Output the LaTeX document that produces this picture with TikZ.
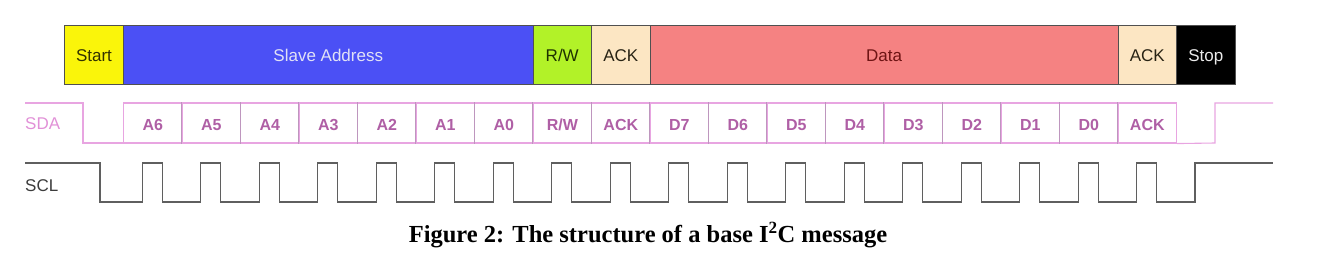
\documentclass[tikz,border=0pt]{standalone}
\usepackage{fontspec}
\setmainfont{Liberation Serif}
\setsansfont{Liberation Sans}
\definecolor{cstart}{RGB}{250,245,10}
\definecolor{cslave}{RGB}{75,80,245}
\definecolor{crw}{RGB}{178,242,40}
\definecolor{cack}{RGB}{252,230,195}
\definecolor{cdata}{RGB}{245,130,130}
\definecolor{cborder}{RGB}{80,80,80}
\definecolor{sdaline}{RGB}{232,165,225}
\definecolor{sdadiv}{RGB}{190,150,190}
\definecolor{sdatext}{RGB}{175,95,165}
\definecolor{sdalabel}{RGB}{225,145,215}
\definecolor{sclline}{RGB}{95,95,95}
\definecolor{datatext}{RGB}{110,20,20}
\tikzset{
  fieldbox/.style={draw=cborder, line width=1pt, inner sep=0pt, minimum height=59pt,
    text height=14.5pt, text depth=0pt,
    anchor=west, font=\sffamily\fontsize{17}{19}\selectfont},
  bitbox/.style={draw=sdaline, line width=1.1pt, inner sep=0pt, minimum height=40pt,
    text height=14pt, text depth=0pt,
    minimum width=58.5pt, anchor=west, text=sdatext, font=\sffamily\bfseries\fontsize{16}{18}\selectfont},
  wavelbl/.style={inner sep=0pt, anchor=west, font=\sffamily\fontsize{17}{19}\selectfont},
}
\begin{document}
\begin{tikzpicture}[x=1pt,y=-1pt]
\useasboundingbox (0,0) rectangle (1324,260);
% top bar
\node[fieldbox, fill=cstart, minimum width=59pt, text={rgb,255:red,50;green,50;blue,0}] (start) at (64,54.5) {Start};
\node[fieldbox, fill=cslave, minimum width=409.5pt, text={rgb,255:red,225;green,225;blue,245}] (slave) at (123,54.5) {Slave Address};
\node[fieldbox, fill=crw, minimum width=58.5pt, text={rgb,255:red,30;green,50;blue,0}] (rw) at (532.5,54.5) {R/W};
\node[fieldbox, fill=cack, minimum width=58.5pt, text={rgb,255:red,40;green,35;blue,20}] (ack1) at (591,54.5) {ACK};
\node[fieldbox, fill=cdata, minimum width=468pt, text=datatext] (data) at (649.5,54.5) {Data};
\node[fieldbox, fill=cack, minimum width=58.5pt, text={rgb,255:red,40;green,35;blue,20}] (ack2) at (1117.5,54.5) {ACK};
\node[fieldbox, fill=black, minimum width=58.5pt, text={rgb,255:red,235;green,235;blue,235}] (stop) at (1176,54.5) {Stop};
% SDA
\node[wavelbl, text=sdalabel] (sdal) at (25,124) {SDA};
\draw[sdaline, line width=1.1pt] (25,103) -- (83,103) -- (83,143) -- (123,143);
\foreach \t [count=\i from 0] in {A6,A5,A4,A3,A2,A1,A0,R/W,ACK,D7,D6,D5,D4,D3,D2,D1,D0,ACK}{
  \node[bitbox] (b\i) at ({123+58.5*\i},123) {\t};
}
\foreach \i in {1,...,17}{
  \draw[sdadiv, line width=1pt] (b\i.north west) -- (b\i.south west);
}
\draw[sdaline, line width=1.1pt] (b17.south east) -- (1215,143) -- (1215,103) -- (1273,103);
% SCL
\node[wavelbl, text={rgb,255:red,60;green,60;blue,60}] (scll) at (25,186) {SCL};
\draw[sclline, line width=1.2pt] (25,163) -- (100,163) -- (100,202)
  foreach \k in {0,...,17} { -- ({142.25+58.5*\k},202) -- ++(0,-39) -- ++(20,0) -- ++(0,39) }
  -- (1195,202) -- (1195,163) -- (1273,163);
% caption
\node[inner sep=0pt, font=\bfseries\fontsize{24.5}{27}\selectfont] (cap) at (648,235) {Figure 2: The structure of a base I\textsuperscript{2}C message};
\end{tikzpicture}
\end{document}
